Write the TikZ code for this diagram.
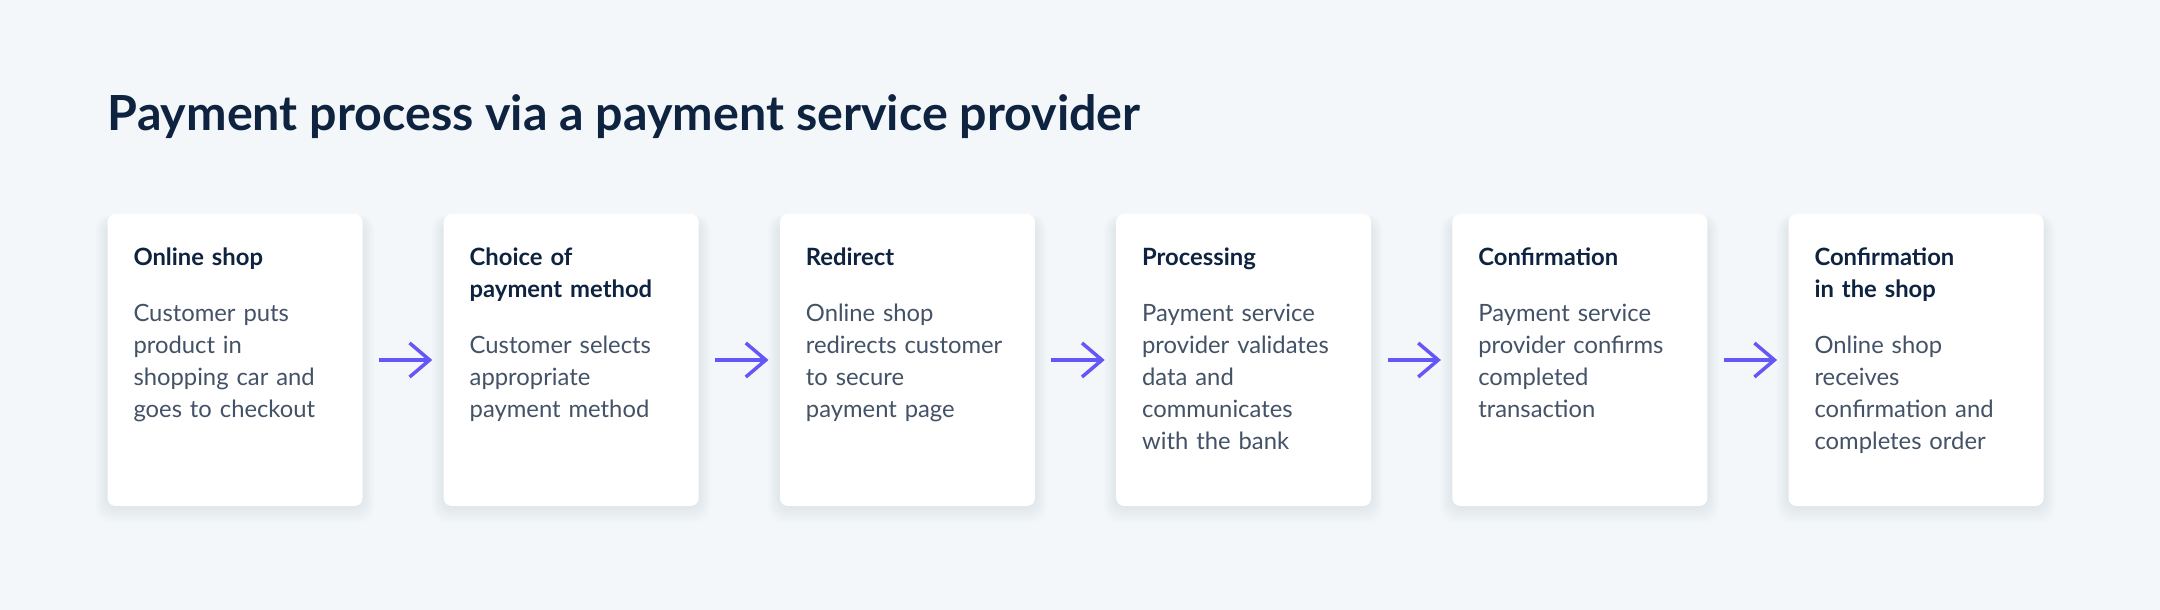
\documentclass[tikz,border=0pt]{standalone}
\usepackage{fontspec}
\setmainfont{Lato}
\usepackage{tikz}
\usepackage{xcolor}
\usetikzlibrary{arrows.meta,backgrounds,positioning}
\definecolor{bgcolor}{HTML}{F4F7FA}
\definecolor{titlecolor}{HTML}{0E2340}
\definecolor{bodycolor}{HTML}{435266}
\definecolor{arrowcolor}{HTML}{6457F5}
\definecolor{shadowcolor}{HTML}{AEBBCC}
\newcommand{\cardhead}[1]{% bold step title
{\bfseries\color{titlecolor}#1}}
\tikzstyle{stepcard} =[
    fill=white,
    rounded corners=4pt,
    minimum width=127.5pt,
    minimum height=146pt,
    inner sep=0pt
    ]
\tikzstyle{steptext} = [
    anchor=base west,
    text width=120pt,
    align=left,
    inner sep=0pt,
    text=bodycolor,
    font=\fontsize{11.9}{16}\selectfont
    ]
\tikzstyle{stepflow} = [
    draw=arrowcolor,
    line width=1.75pt,
    -{Straight Barb[length=10pt,width=17pt]}
    ]

\begin{document}
\begin{tikzpicture}[x=0.5pt,y=0.5pt]
\useasboundingbox (0,0) rectangle (2160,610);
\node[anchor=base west, inner sep=0pt, text=titlecolor, font=\fontsize{24.2}{28}\selectfont\bfseries] (title) at (107.5,479) {Payment process via a payment service provider};

\node[stepcard] (shop) at (235,250) {};
\node[stepcard, right=40.2pt of shop] (choice) {};
\node[stepcard, right=40.2pt of choice] (redirect) {};
\node[stepcard, right=40.2pt of redirect] (processing) {};
\node[stepcard, right=40.2pt of processing] (confirm) {};
\node[stepcard, right=40.2pt of confirm] (shopconfirm) {};

\node[steptext] (shoptext) at ([xshift=13pt,yshift=-26pt]shop.north west) {%
\cardhead{Online shop}\\[12pt]
Customer puts\\ product in\\ shopping car and\\ goes to checkout};
\node[steptext] (choicetext) at ([xshift=13pt,yshift=-26pt]choice.north west) {%
\cardhead{Choice of\\ payment method}\\[12pt]
Customer selects\\ appropriate\\ payment method};
\node[steptext] (redirecttext) at ([xshift=13pt,yshift=-26pt]redirect.north west) {%
\cardhead{Redirect}\\[12pt]
Online shop\\ redirects customer\\ to secure\\ payment page};
\node[steptext] (processingtext) at ([xshift=13pt,yshift=-26pt]processing.north west) {%
\cardhead{Processing}\\[12pt]
Payment service\\ provider validates\\ data and\\ communicates\\ with the bank};
\node[steptext] (confirmtext) at ([xshift=13pt,yshift=-26pt]confirm.north west) {%
\cardhead{Confirmation}\\[12pt]
Payment service\\ provider confirms\\ completed\\ transaction};
\node[steptext] (shopconfirmtext) at ([xshift=13pt,yshift=-26pt]shopconfirm.north west) {%
\cardhead{Confirmation\\ in the shop}\\[12pt]
Online shop\\ receives\\ confirmation and\\ completes order};

\draw[stepflow] ([xshift=8pt]shop.east) -- ([xshift=-5.5pt]choice.west);
\draw[stepflow] ([xshift=8pt]choice.east) -- ([xshift=-5.5pt]redirect.west);
\draw[stepflow] ([xshift=8pt]redirect.east) -- ([xshift=-5.5pt]processing.west);
\draw[stepflow] ([xshift=8pt]processing.east) -- ([xshift=-5.5pt]confirm.west);
\draw[stepflow] ([xshift=8pt]confirm.east) -- ([xshift=-5.5pt]shopconfirm.west);

\begin{scope}[on background layer]
\fill[bgcolor] (0,0) rectangle (2160,610);
% soft card shadows
\foreach \c in {shop,choice,redirect,processing,confirm,shopconfirm}
  \foreach \s in {1,...,8}
    \fill[shadowcolor, opacity=0.03, rounded corners=7pt]
      ([shift={(-\s*0.7pt,-\s*0.9pt-0.5pt)}]\c.south west) rectangle ([shift={(\s*0.7pt,\s*0.3pt-3pt)}]\c.north east);
\end{scope}
\end{tikzpicture}
\end{document}
